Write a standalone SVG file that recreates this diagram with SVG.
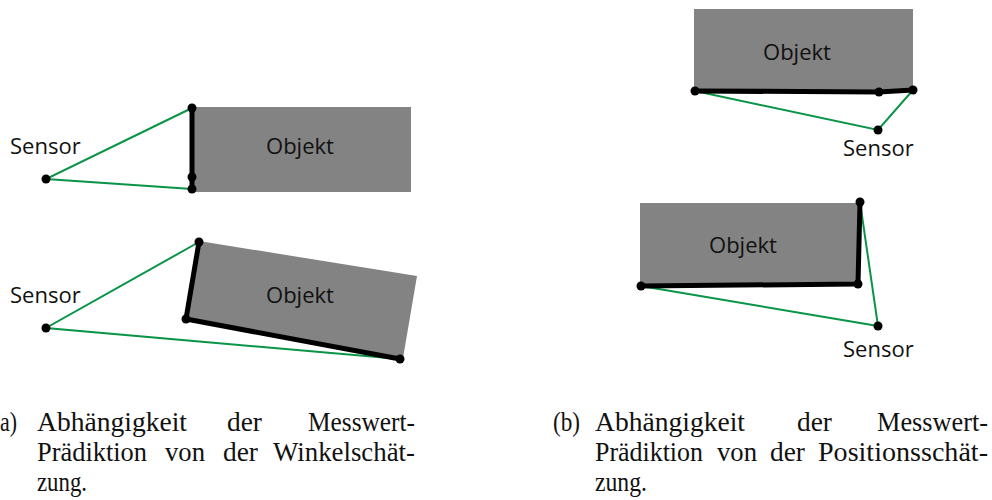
<svg xmlns="http://www.w3.org/2000/svg" width="992" height="500" viewBox="0 0 992 500">
  <style>
    .obj { fill: #838383; }
    .edge { fill: none; stroke: #000; stroke-width: 5; stroke-linejoin: round; stroke-linecap: round; }
    .ray { fill: none; stroke: #0a9447; stroke-width: 2; }
    .pt { fill: #000; }
    .lbl { font-family: "Open Sans", "Noto Sans", sans-serif; font-size: 22px; fill: #111; }
    .cap { font-family: "Liberation Serif", "DejaVu Serif", serif; font-size: 27px; fill: #111; }
  </style>
  <rect width="992" height="500" fill="#fff"/>

  <!-- (a) top: object facing the sensor -->
  <g id="a-top-object">
    <rect class="obj" x="192" y="107" width="219" height="85"/>
    <text class="lbl" x="300" y="154" text-anchor="middle">Objekt</text>
  </g>
  <g id="a-top-sensor">
    <text class="lbl" x="10" y="154">Sensor</text>
  </g>

  <!-- (a) bottom: rotated object -->
  <g id="a-bottom-object">
    <polygon class="obj" points="199,241 417,276 403,358 186,319"/>
    <text class="lbl" x="300" y="303" text-anchor="middle">Objekt</text>
  </g>
  <g id="a-bottom-sensor">
    <text class="lbl" x="10" y="303">Sensor</text>
  </g>

  <!-- (b) top: object above the sensor -->
  <g id="b-top-object">
    <rect class="obj" x="694" y="9" width="219" height="82"/>
    <text class="lbl" x="797" y="60" text-anchor="middle">Objekt</text>
  </g>
  <g id="b-top-sensor">
    <text class="lbl" x="843" y="156">Sensor</text>
  </g>

  <!-- (b) bottom: object left of the sensor -->
  <g id="b-bottom-object">
    <rect class="obj" x="640" y="203" width="220" height="82"/>
    <text class="lbl" x="743" y="253" text-anchor="middle">Objekt</text>
  </g>
  <g id="b-bottom-sensor">
    <text class="lbl" x="843" y="357">Sensor</text>
  </g>

  <!-- connectors: sensor rays, visible edges and contour points -->
  <g id="connectors">
    <polyline class="ray" points="192,108 46,179 192,189"/>
    <polyline class="edge" points="192,108 192,189"/>

    <polyline class="ray" points="199,242 46,328 400,359"/>
    <polyline class="edge" points="199,242 186,319 400,359"/>

    <polyline class="ray" points="695,91 878,130 913,90"/>
    <polyline class="edge" points="695,91 879,92 913,90"/>

    <polyline class="ray" points="641,286 878,326 860,202"/>
    <polyline class="edge" points="641,286 858,284 860,202"/>

    <g class="pt">
      <circle cx="192" cy="108" r="4.5"/>
      <circle cx="192" cy="177" r="4.5"/>
      <circle cx="192" cy="189" r="4.5"/>
      <circle cx="46" cy="179" r="4.5"/>

      <circle cx="199" cy="242" r="4.5"/>
      <circle cx="186" cy="319" r="4.5"/>
      <circle cx="400" cy="359" r="4.5"/>
      <circle cx="46" cy="328" r="4.5"/>

      <circle cx="695" cy="91" r="4.5"/>
      <circle cx="879" cy="92" r="4.5"/>
      <circle cx="913" cy="90" r="4.5"/>
      <circle cx="878" cy="130" r="4.5"/>

      <circle cx="641" cy="286" r="4.5"/>
      <circle cx="858" cy="284" r="4.5"/>
      <circle cx="860" cy="202" r="4.5"/>
      <circle cx="878" cy="326" r="4.5"/>
    </g>
  </g>

  <!-- sub-captions -->
  <g id="caption-a" class="cap">
    <text x="0" y="431" textLength="17" lengthAdjust="spacingAndGlyphs">a)</text>
    <text x="37" y="431" textLength="150" lengthAdjust="spacingAndGlyphs">Abhängigkeit</text>
    <text x="227" y="431" textLength="35" lengthAdjust="spacingAndGlyphs">der</text>
    <text x="308" y="431" textLength="107" lengthAdjust="spacingAndGlyphs">Messwert-</text>
    <text x="37" y="461" textLength="110" lengthAdjust="spacingAndGlyphs">Prädiktion</text>
    <text x="165" y="461" textLength="40" lengthAdjust="spacingAndGlyphs">von</text>
    <text x="223" y="461" textLength="35" lengthAdjust="spacingAndGlyphs">der</text>
    <text x="273" y="461" textLength="142" lengthAdjust="spacingAndGlyphs">Winkelschät-</text>
    <text x="37" y="491" textLength="50" lengthAdjust="spacingAndGlyphs">zung.</text>
  </g>
  <g id="caption-b" class="cap">
    <text x="553" y="431" textLength="27" lengthAdjust="spacingAndGlyphs">(b)</text>
    <text x="595" y="431" textLength="150" lengthAdjust="spacingAndGlyphs">Abhängigkeit</text>
    <text x="797" y="431" textLength="35" lengthAdjust="spacingAndGlyphs">der</text>
    <text x="877" y="431" textLength="111" lengthAdjust="spacingAndGlyphs">Messwert-</text>
    <text x="595" y="461" textLength="108" lengthAdjust="spacingAndGlyphs">Prädiktion</text>
    <text x="717" y="461" textLength="40" lengthAdjust="spacingAndGlyphs">von</text>
    <text x="770" y="461" textLength="35" lengthAdjust="spacingAndGlyphs">der</text>
    <text x="818" y="461" textLength="170" lengthAdjust="spacingAndGlyphs">Positionsschät-</text>
    <text x="595" y="491" textLength="52" lengthAdjust="spacingAndGlyphs">zung.</text>
  </g>
</svg>
